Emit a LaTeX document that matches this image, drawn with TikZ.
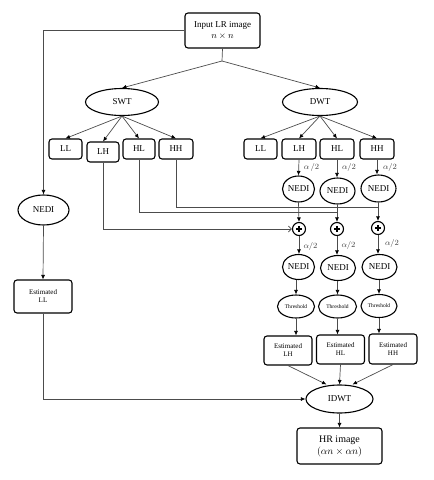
\documentclass[tikz,border=0pt]{standalone}
\usepackage{fontspec}
\setmainfont{Liberation Serif}
\usetikzlibrary{shapes.geometric,arrows.meta}
\begin{document}
\begin{tikzpicture}[x=1pt,y=-1pt,
 box/.style={draw,line width=1.1pt,rounded corners=3pt,inner sep=0pt,align=center,font=\fontsize{9}{10.5}\selectfont},
 oval/.style={draw,ellipse,line width=1.1pt,inner sep=0pt,font=\fontsize{9}{10}\selectfont},
 plus/.style={draw,circle,line width=1.1pt,minimum size=13pt,inner sep=0pt},
 conn/.style={draw=black!70,line width=0.7pt},
 arr/.style={conn,-{Latex[length=4.5pt,width=4pt,black]}},
 oarr/.style={conn,-{Straight Barb[length=3pt,width=6pt]}},
 lab/.style={font=\fontsize{8}{9}\selectfont,text=black!75},
 small/.style={font=\fontsize{7}{8}\selectfont},
 tiny/.style={font=\fontsize{5.5}{6}\selectfont}
]
\useasboundingbox (0,0) rectangle (434,480);

% top
\node[box,minimum width=75pt,minimum height=35pt] (in) at (222.5,30.5) {Input LR image\\$n\times n$};
\node[oval,minimum width=73pt,minimum height=27pt] (swt) at (122,102) {SWT};
\node[oval,minimum width=75pt,minimum height=27pt] (dwt) at (320,102) {DWT};
\coordinate (split) at (222,61);

% SWT subbands
\node[box,minimum width=33pt,minimum height=20pt] (sLL) at (65.5,149) {LL};
\node[box,minimum width=32pt,minimum height=20pt] (sLH) at (103,152) {LH};
\node[box,minimum width=32pt,minimum height=20pt] (sHL) at (139,149) {HL};
\node[box,minimum width=34pt,minimum height=20pt] (sHH) at (176,149) {HH};

% DWT subbands
\node[box,minimum width=33pt,minimum height=20pt] (dLL) at (260.5,149) {LL};
\node[box,minimum width=34pt,minimum height=20pt] (dLH) at (299,149) {LH};
\node[box,minimum width=34pt,minimum height=20pt] (dHL) at (337,149) {HL};
\node[box,minimum width=34pt,minimum height=20pt] (dHH) at (377,149) {HH};

% NEDI row 1
\node[oval,minimum width=32pt,minimum height=26pt] (n1) at (298.5,189) {NEDI};
\node[oval,minimum width=35pt,minimum height=26pt] (n2) at (337.5,191) {NEDI};
\node[oval,minimum width=35pt,minimum height=27pt] (n3) at (378.5,188.5) {NEDI};

% plus
\node[plus] (p1) at (299,229) {};
\node[plus] (p2) at (337,229) {};
\node[plus] (p3) at (378,228) {};
\foreach \p in {p1,p2,p3}{
  \draw[line width=1.8pt] ([xshift=-2.8pt]\p.center) -- ([xshift=2.8pt]\p.center);
  \draw[line width=1.8pt] ([yshift=-2.8pt]\p.center) -- ([yshift=2.8pt]\p.center);
}

% NEDI row 2
\node[oval,minimum width=32pt,minimum height=25pt] (m1) at (298.5,267) {NEDI};
\node[oval,minimum width=35pt,minimum height=25pt] (m2) at (338,268) {NEDI};
\node[oval,minimum width=35pt,minimum height=25pt] (m3) at (379.5,267) {NEDI};

% Threshold
\node[oval,tiny,minimum width=37pt,minimum height=23pt] (t1) at (296,306.5) {Threshold};
\node[oval,tiny,minimum width=38pt,minimum height=23pt] (t2) at (337.5,306.5) {Threshold};
\node[oval,tiny,minimum width=36pt,minimum height=23pt] (t3) at (379,306) {Threshold};

% Estimated
\node[box,small,minimum width=48pt,minimum height=29pt] (e1) at (288,350.5) {Estimated\\LH};
\node[box,small,minimum width=48pt,minimum height=29pt] (e2) at (340.5,349.5) {Estimated\\HL};
\node[box,small,minimum width=48pt,minimum height=30pt] (e3) at (393,349) {Estimated\\HH};

% IDWT & HR
\node[oval,minimum width=67pt,minimum height=28pt] (idwt) at (339.5,399) {IDWT};
\node[box,font=\fontsize{10}{12}\selectfont,minimum width=85pt,minimum height=36pt] (hr) at (339.5,446) {HR image\\$(\alpha n\times\alpha n)$};

% left branch
\node[oval,minimum width=51pt,minimum height=30pt] (ln) at (43.5,210) {NEDI};
\node[box,small,minimum width=58pt,minimum height=33pt] (ell) at (43,296.5) {Estimated\\LL};

% connectors top
\draw[conn] (in.south) -- (split);
\draw[arr] (split) -- (swt.north);
\draw[arr] (split) -- (dwt.north);
\draw[arr] (in.west) -| (ln.north);
\draw[arr] (ln.south) -- (ell.north);
\draw[arr] (ell.south) |- (idwt.west);

\foreach \b in {sLL,sLH,sHL,sHH}{\draw[arr] (swt.south) -- (\b.north);}
\foreach \b in {dLL,dLH,dHL,dHH}{\draw[arr] (dwt.south) -- (\b.north);}

% DWT columns
\draw[arr] (dLH.south) -- (n1.north);
\draw[arr] (dHL.south) -- (dHL.south |- n2.north);
\draw[arr] (dHH.south) -- (dHH.south |- n3.north);
\draw[arr] (n1.south) -- (p1.north);
\draw[arr] (n2.south -| p2.north) -- (p2.north);
\draw[arr] (n3.south -| p3.north) -- (p3.north);
\draw[arr] (p1.south) -- (p1.south |- m1.north);
\draw[arr] (p2.south) -- (p2.south |- m2.north);
\draw[arr] (p3.south) -- (p3.south |- m3.north);
\draw[arr] (m1.south -| t1.north) -- (t1.north);
\draw[arr] (m2.south -| t2.north) -- (t2.north);
\draw[arr] (m3.south -| t3.north) -- (t3.north);
\draw[arr] (t1.south) -- (t1.south |- e1.north);
\draw[arr] (t2.south) -- (t2.south |- e2.north);
\draw[arr] (t3.south) -- (t3.south |- e3.north);
\draw[arr] (e1.south) -- ([xshift=-13pt]idwt.north);
\draw[arr] (e2.south) -- (idwt.north);
\draw[arr] (e3.south) -- ([xshift=13pt]idwt.north);
\draw[arr] (idwt.south) -- (hr.north);

% SWT detail connectors
\coordinate (hhc) at (378,207);
\coordinate (hlc) at (337,212.5);
\draw[conn] (sHH.south) |- (hhc);
\draw[conn] (sHL.south) |- (hlc);
\draw[oarr] (sLH.south) |- (p1.west);

% alpha labels
\node[lab] (a1) at (311.5,167) {$\alpha\,/2$};
\node[lab] (a2) at (349,167) {$\alpha/2$};
\node[lab] (a3) at (390,167) {$\alpha/2$};
\node[lab] (b1) at (310.5,246) {$\alpha/2$};
\node[lab] (b2) at (348.5,245) {$\alpha/2$};
\node[lab] (b3) at (392,243) {$\alpha/2$};
\end{tikzpicture}
\end{document}
